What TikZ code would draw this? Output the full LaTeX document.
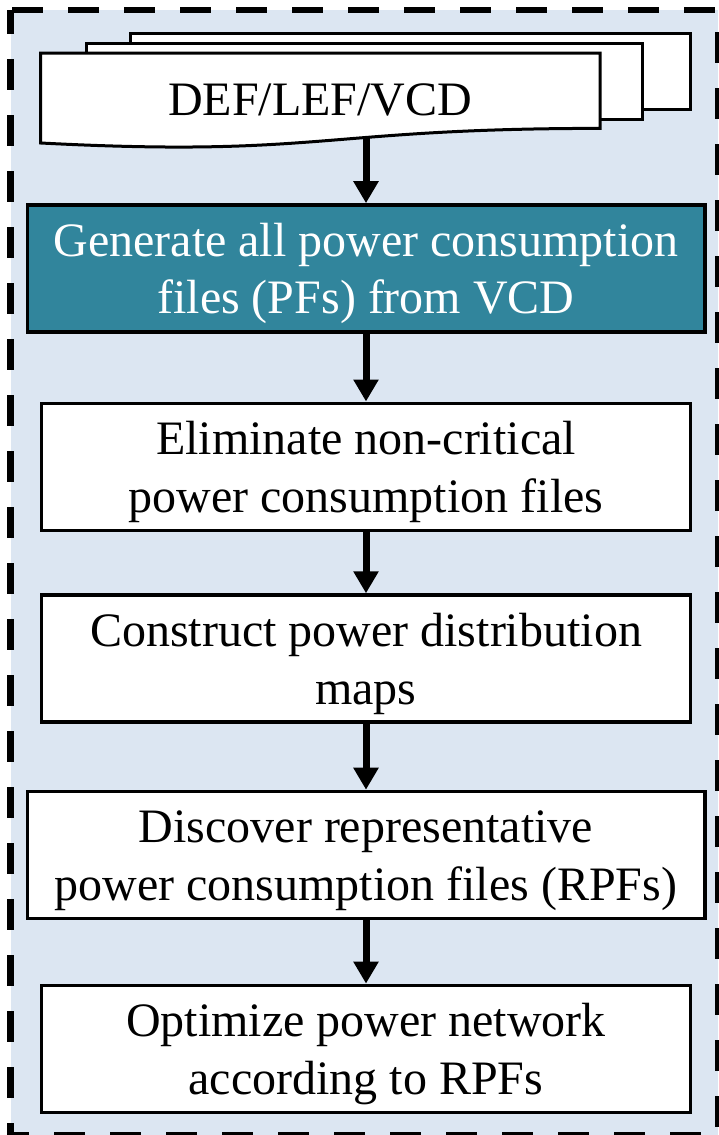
\documentclass[tikz,border=0pt]{standalone}
\usepackage{fontspec}
\setmainfont{Liberation Serif}
\usetikzlibrary{arrows.meta}
\definecolor{panelbg}{HTML}{DCE6F2}
\definecolor{stepteal}{HTML}{31859C}
% strut giving every text line the same height and depth
\newcommand\linestrut{\rule[-12.3pt]{0pt}{57.7pt}}

\begin{document}
\begin{tikzpicture}[x=1pt,y=-1pt,
  stepbox/.style={draw=black, line width=3.6pt, fill=white, inner sep=0pt,
    minimum height=127pt, align=center, font=\fontsize{48}{57.7}\selectfont},
  narrow/.style={minimum width=649pt},
  wide/.style={minimum width=677.4pt},
  page/.style={draw=black, line width=3pt, fill=white, line join=miter},
  flow/.style={line width=7pt, -{Triangle[width=24pt,length=22pt]}},
  frameline/.style={line width=6.5pt, dash pattern=on 31pt off 25pt, dash phase=54.5pt}
]
\useasboundingbox (0,0) rectangle (718,1135);

% dashed container
\fill[panelbg] (10.5,10) rectangle (718,1135);
\draw[frameline] (10.5,10) -- (718,10) -- (718,1135) -- (10.5,1135) -- cycle;

% stack of input files
\filldraw[page] (130.3,33.3) rectangle (690,109.3);
\filldraw[page] (86.7,43) rectangle (642,119);
\filldraw[page] (40.7,53) -- (600,53) -- (600,128.4)
  .. controls (320.2,128.4) and (320.2,157.5) .. (40.7,143) -- cycle;
\node[font=\fontsize{48}{55}\selectfont, anchor=base, inner sep=0pt] (doc) at (320.3,115) {DEF/LEF/VCD};
\coordinate (docbot) at (366,137.4);

% flow steps
\node[stepbox, wide, fill=stepteal, text=white] (gen) at (366,268.5)
  {\linestrut Generate all power consumption\\\linestrut files (PFs) from VCD};
\node[stepbox, narrow] (elim) at (366,466.8)
  {\linestrut Eliminate non-critical\\\linestrut power consumption files};
\node[stepbox, narrow] (maps) at (366,658.6)
  {\linestrut Construct power distribution\\\linestrut maps};
\node[stepbox, wide] (rpf) at (366,855)
  {\linestrut Discover representative\\\linestrut power consumption files (RPFs)};
\node[stepbox, narrow] (opt) at (366,1048.9)
  {\linestrut Optimize power network\\\linestrut according to RPFs};

% connectors
\draw[flow] (docbot) -- (gen);
\draw[flow] (gen) -- (elim);
\draw[flow] (elim) -- (maps);
\draw[flow] (maps) -- (rpf);
\draw[flow] (rpf) -- (opt);
\end{tikzpicture}
\end{document}
